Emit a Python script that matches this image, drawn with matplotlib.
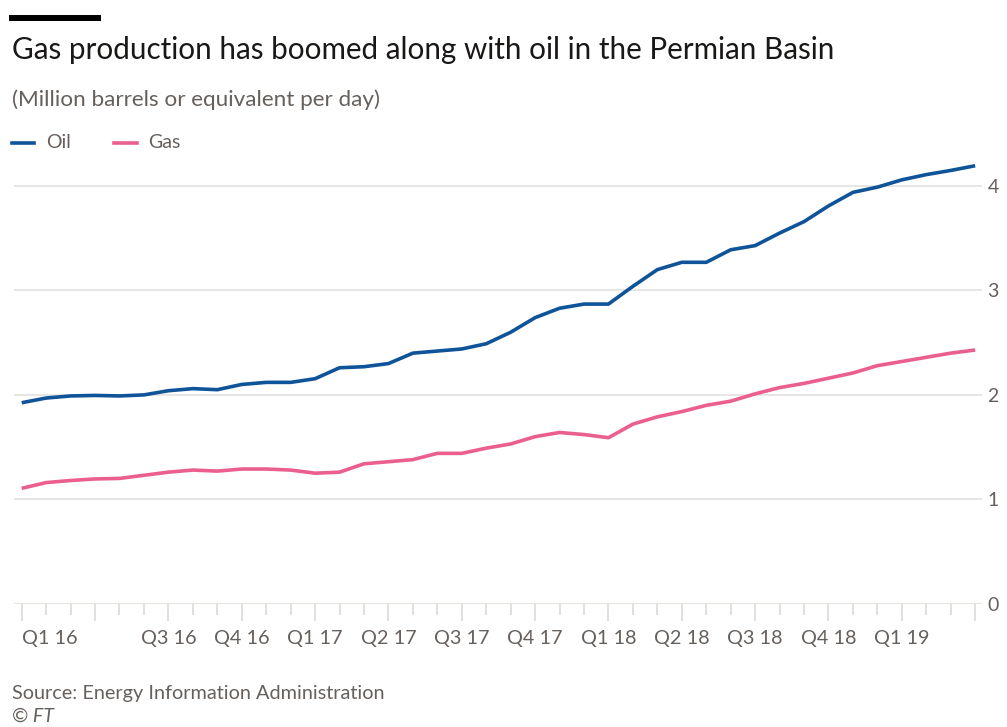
#!/usr/bin/env python3

import numpy as np
import matplotlib.pyplot as plt
from matplotlib.lines import Line2D

# monthly, Jan 2016 - Apr 2019
oil = [1.925, 1.97, 1.99, 1.995, 1.99, 2.00, 2.04, 2.06, 2.05, 2.10,
       2.12, 2.12, 2.155, 2.26, 2.27, 2.30, 2.40, 2.42, 2.44, 2.49,
       2.60, 2.74, 2.83, 2.87, 2.87, 3.04, 3.20, 3.27, 3.27, 3.39,
       3.43, 3.55, 3.66, 3.81, 3.94, 3.99, 4.06, 4.11, 4.15, 4.195]
gas = [1.105, 1.16, 1.18, 1.195, 1.20, 1.23, 1.26, 1.28, 1.27, 1.29,
       1.29, 1.28, 1.25, 1.26, 1.34, 1.36, 1.38, 1.44, 1.44, 1.49,
       1.53, 1.60, 1.64, 1.62, 1.59, 1.72, 1.79, 1.84, 1.90, 1.94,
       2.01, 2.07, 2.11, 2.16, 2.21, 2.28, 2.32, 2.36, 2.40, 2.43]
quarter_labels = ['Q1 16', '', 'Q3 16', 'Q4 16', 'Q1 17', 'Q2 17', 'Q3 17',
                  'Q4 17', 'Q1 18', 'Q2 18', 'Q3 18', 'Q4 18', 'Q1 19', '']
y_ticks = [0, 1, 2, 3, 4]

OIL_COL = '#0f5499'
GAS_COL = '#eb5f8f'
TXT = '#66605c'
GRID = '#e6e4e2'

def main():
    plt.rcParams['font.family'] = ['Lato', 'DejaVu Sans']
    fig = plt.figure(figsize=(10.07, 7.27), dpi=100)
    fig.patch.set_facecolor('white')

    ax = fig.add_axes([0.0139, 0.1696, 0.9613, 0.6175])
    x = np.arange(len(oil))
    ax.plot(x, oil, color=OIL_COL, lw=2.6, solid_capstyle='butt', zorder=3)
    ax.plot(x, gas, color=GAS_COL, lw=2.6, solid_capstyle='butt', zorder=3)

    ax.set_xlim(-0.315, 39.28)
    ax.set_ylim(0, 4.3)

    for s in ax.spines.values():
        s.set_visible(False)
    ax.yaxis.tick_right()
    ax.set_yticks(y_ticks)
    ax.set_yticklabels([str(v) for v in y_ticks])
    ax.tick_params(axis='y', length=0, pad=4, labelsize=14, labelcolor=TXT)
    for v in y_ticks[1:]:
        ax.axhline(v, color=GRID, lw=1.3, zorder=1)
    ax.axhline(0, color='#e8e4e0', lw=2.2, zorder=1)

    major = np.arange(0, len(oil), 3)
    ax.set_xticks(major)
    ax.set_xticklabels(quarter_labels)
    ax.set_xticks(np.arange(len(oil)), minor=True)
    ax.tick_params(axis='x', which='major', length=12, width=1.2, color='#dedad6',
                   pad=7, labelsize=14.3, labelcolor=TXT)
    ax.tick_params(axis='x', which='minor', length=8, width=1.2, color='#dedad6')
    ax.get_xticklabels()[0].set_ha('left')

    # header
    fig.add_artist(Line2D([12/1007, 98/1007], [1-18/727, 1-18/727],
                          color='black', lw=4.3))
    fig.text(12/1007, 1-50/727, 'Gas production has boomed along with oil in the Permian Basin',
             fontsize=21.3, color='#1a1817', va='center', ha='left')
    fig.text(12/1007, 1-100/727, '(Million barrels or equivalent per day)',
             fontsize=16.2, color=TXT, va='center', ha='left')

    # legend
    ly = 1 - 143/727
    fig.add_artist(Line2D([12/1007, 34/1007], [ly, ly], color=OIL_COL, lw=2.6))
    fig.text(46/1007, ly, 'Oil', fontsize=14, color=TXT, va='center')
    fig.add_artist(Line2D([114/1007, 137/1007], [ly, ly], color=GAS_COL, lw=2.6))
    fig.text(148/1007, ly, 'Gas', fontsize=14, color=TXT, va='center')

    # footer
    fig.text(12/1007, 1-693/727, 'Source: Energy Information Administration',
             fontsize=14.3, color=TXT, va='center')
    fig.text(12/1007, 1-716/727, '© FT', fontsize=14, color=TXT, va='center',
             style='italic')

    fig.savefig('out.png', dpi=100, facecolor='white')

if __name__ == "__main__":
    main()
